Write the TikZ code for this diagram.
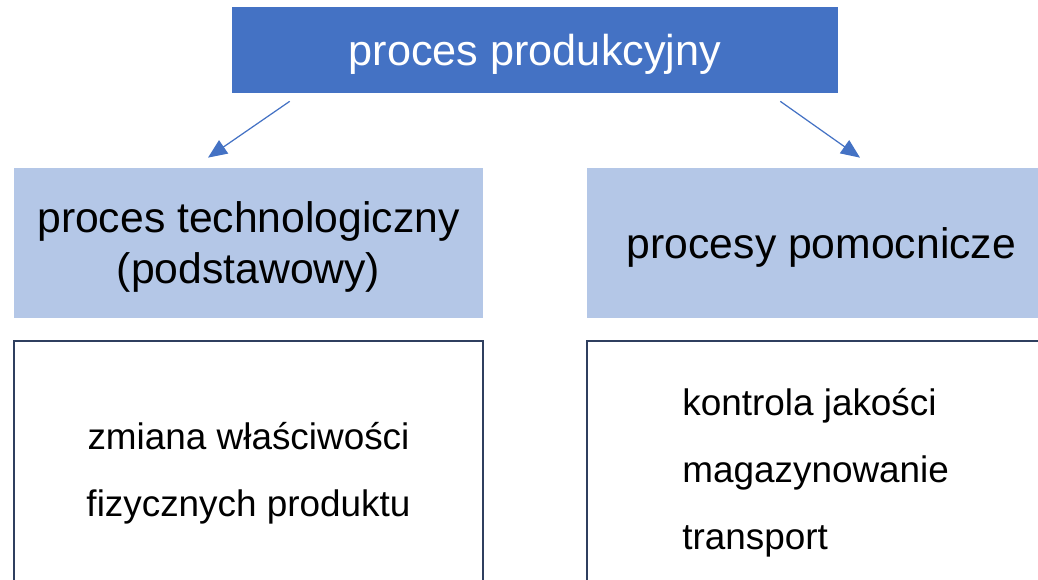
\documentclass[tikz,border=0pt]{standalone}
\usepackage{fontspec}
\setmainfont{Liberation Sans}
\usetikzlibrary{positioning}
\usetikzlibrary{calc}
\usetikzlibrary{arrows.meta}

\definecolor{topblue}{HTML}{4472C4}
\definecolor{lightblue}{HTML}{B4C7E7}
\definecolor{navy}{HTML}{2F3F5F}

\tikzset{
    topbox/.style={fill=topblue, text=white, minimum width=12.12cm, minimum height=1.72cm, inner sep=0pt, text depth=-0.05cm, font=\fontsize{24.6}{29}\selectfont},
    midbox/.style={fill=lightblue, minimum width=9.38cm, minimum height=3cm, inner sep=0pt, align=center, text depth=-0.05cm, font=\fontsize{24.3}{29}\selectfont},
    listbox/.style={draw=navy, line width=1.1pt, minimum width=9.38cm, minimum height=5.2cm, inner sep=0pt},
    listtext/.style={inner sep=0pt, font=\fontsize{21}{38}\selectfont},
    link/.style={draw=topblue, line width=0.7pt, -{Triangle[length=0.38cm, width=0.32cm]}}
}

\begin{document}
\begin{tikzpicture}[x=0.02cm, y=0.02cm]
    \useasboundingbox (0,0) rectangle (1038,580);
    \clip (0,0) rectangle (1038,580);

    \node[topbox] (prod) at (535,530) {proces produkcyjny};

    \node[midbox] (tech) at (248.5,337) {proces technologiczny\\(podstawowy)};
    \node[midbox] (aux) at (821.5,337) {procesy pomocnicze};

    \node[listbox, below=0.44cm of tech] (techlist) {};
    \node[listbox, below=0.44cm of aux] (auxlist) {};

    \node[listtext, align=center] (techitems) at (248.5,107) {zmiana właściwości\\fizycznych produktu};
    \node[listtext, align=left, anchor=west] (auxitems) at (682,107) {kontrola jakości\\magazynowanie\\transport};

    \draw[link] ($(prod.south west)+(58,-8)$) -- ($(tech.north)+(-40.5,10)$);
    \draw[link] ($(prod.south east)+(-58,-8)$) -- ($(aux.north)+(38.5,10)$);
\end{tikzpicture}
\end{document}
